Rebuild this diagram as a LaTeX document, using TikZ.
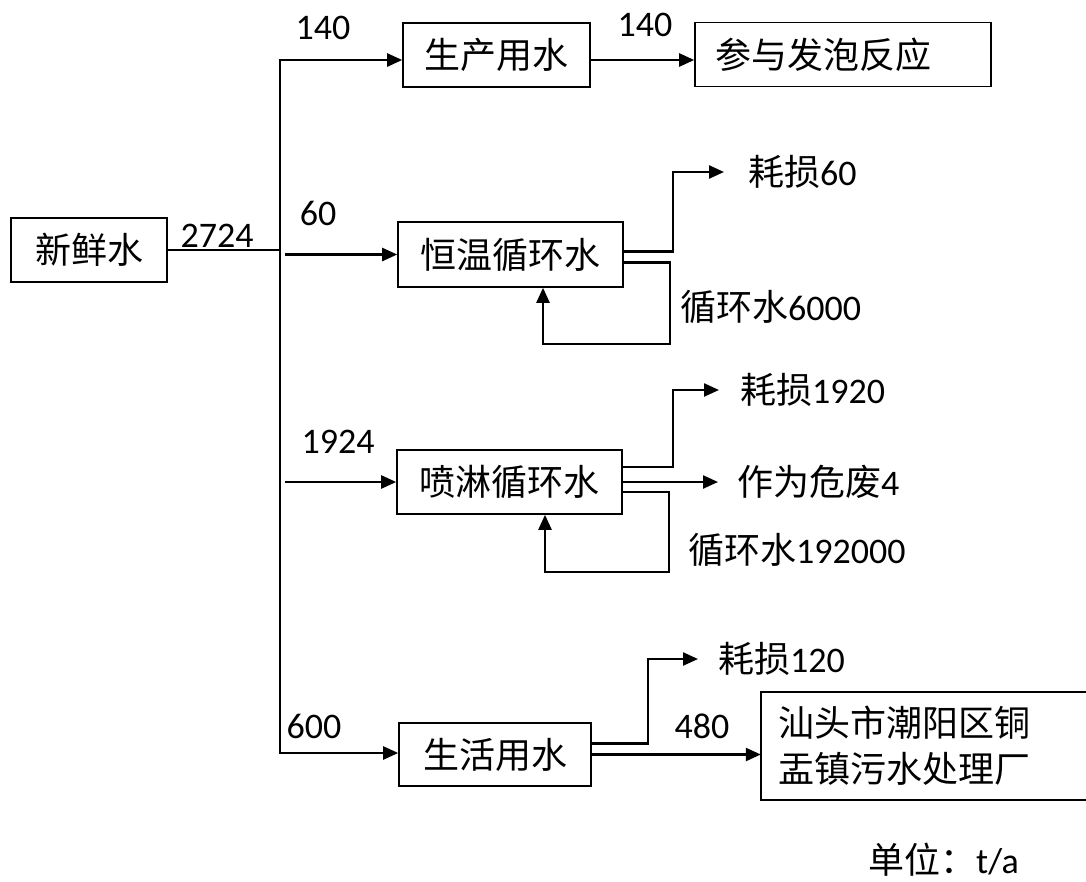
\documentclass[tikz,border=0pt]{standalone}
\usepackage{fontspec}
\setmainfont{Carlito}
\newfontfamily\cjk{Noto Sans CJK SC}
\usetikzlibrary{arrows.meta}
\newcommand{\zh}[1]{{\cjk #1}}
\begin{document}
\begin{tikzpicture}[x=1pt,y=-1pt,
  font=\fontsize{36}{46}\selectfont,
  box/.style={draw, line width=1.6pt, inner sep=0pt},
  lbl/.style={inner sep=0pt},
  ln/.style={line width=2.4pt},
  arr/.style={line width=2.4pt, -{Triangle[length=15pt,width=13pt]}}]
\useasboundingbox (0,0) rectangle (1086,881);
\fill[white] (0,0) rectangle (1086,881);
\clip (0,0) rectangle (1086,881);

% boxes
\node[box, minimum width=156pt, minimum height=64pt] (fresh) at (89,250) {\zh{新鲜水}};
\node[box, minimum width=187pt, minimum height=64pt] (prod) at (496.5,55) {\zh{生产用水}};
\node[box, minimum height=64pt, text width=256pt, inner xsep=20pt, align=left] (foam) at (843,54.5) {\zh{参与发泡反应}};
\node[box, minimum width=225pt, minimum height=65pt] (hw) at (510.5,254.5) {\zh{恒温循环水}};
\node[box, minimum width=225pt, minimum height=64pt] (sp) at (509.5,482) {\zh{喷淋循环水}};
\node[box, minimum width=192pt, minimum height=63pt] (life) at (495,754.5) {\zh{生活用水}};
% treatment plant: box runs off the right edge of the picture
\node[lbl, minimum height=108pt, text width=400pt, inner xsep=17pt, align=left] (plant) at (978,746) {\zh{汕头市潮阳区铜}\\\zh{盂镇污水处理厂}};
\draw[line width=1.6pt] (plant.north east) -- (plant.north west) -- (plant.south west) -- (plant.south east);

% free labels
\node[lbl, anchor=west] (loss1) at (748,172) {\zh{耗损}60};
\node[lbl, anchor=west] (loss2) at (740,390) {\zh{耗损}1920};
\node[lbl, anchor=west] (haz) at (737,482) {\zh{作为危废}4};
\node[lbl, anchor=west] (loss3) at (718,659) {\zh{耗损}120};
\node[lbl, anchor=west] (rc1) at (680,307) {\zh{循环水}6000};
\node[lbl, anchor=west] (rc2) at (688,550) {\zh{循环水}192000};
\node[lbl] (q140a) at (323,28) {140};
\node[lbl] (q140b) at (645,25) {140};
\node[lbl] (q2724) at (217,236) {2724};
\node[lbl] (q60) at (318,213) {60};
\node[lbl] (q1924) at (338,442) {1924};
\node[lbl] (q600) at (314,726) {600};
\node[lbl] (q480) at (702,726) {480};
\node[lbl, anchor=west] (unit) at (868,860) {\zh{单位：}t/a};

% helper coordinates
\coordinate (tTop) at (280,60);
\coordinate (tMid) at (280,250);
\coordinate (tBot) at (280,753);
\coordinate (branch) at (285,0);
\coordinate (hwR) at (670,344);
\coordinate (hwL) at (543,344);
\coordinate (spR) at (669,572);
\coordinate (spL) at (545,572);

% trunk
\draw[ln] (fresh.east) -- (tMid);
\draw[arr] (tMid) -- (tTop) -- (prod.west |- tTop);
\draw[arr] (tMid) -- (tBot) -- (life.west |- tBot);
\draw[arr] (hw.west -| branch) -- (hw.west);
\draw[arr] (sp.west -| branch) -- (sp.west);
\draw[arr] (prod.east |- tTop) -- (foam.west |- tTop);

% constant-temperature loop
\draw[arr] ([yshift=3pt]hw.east) -- ++(49,0) |- ([xshift=-24pt]loss1.west);
\draw[arr] ([yshift=-8pt]hw.east) -| (hwR) -- (hwL) -- (hwL |- hw.south);

% spray loop
\draw[arr] ([yshift=15pt]sp.east) -- ++(50,0) |- ([xshift=-21pt]loss2.west);
\draw[arr] (sp.east) -- ([xshift=-19pt]haz.west);
\draw[arr] ([yshift=-10pt]sp.east) -| (spR) -- (spL) -- (spL |- sp.south);

% domestic water
\draw[arr] ([yshift=11pt]life.east) -- ++(56,0) |- ([xshift=-20pt]loss3.west);
\draw[arr] (life.east) -- (life.east -| plant.west);
\end{tikzpicture}
\end{document}
